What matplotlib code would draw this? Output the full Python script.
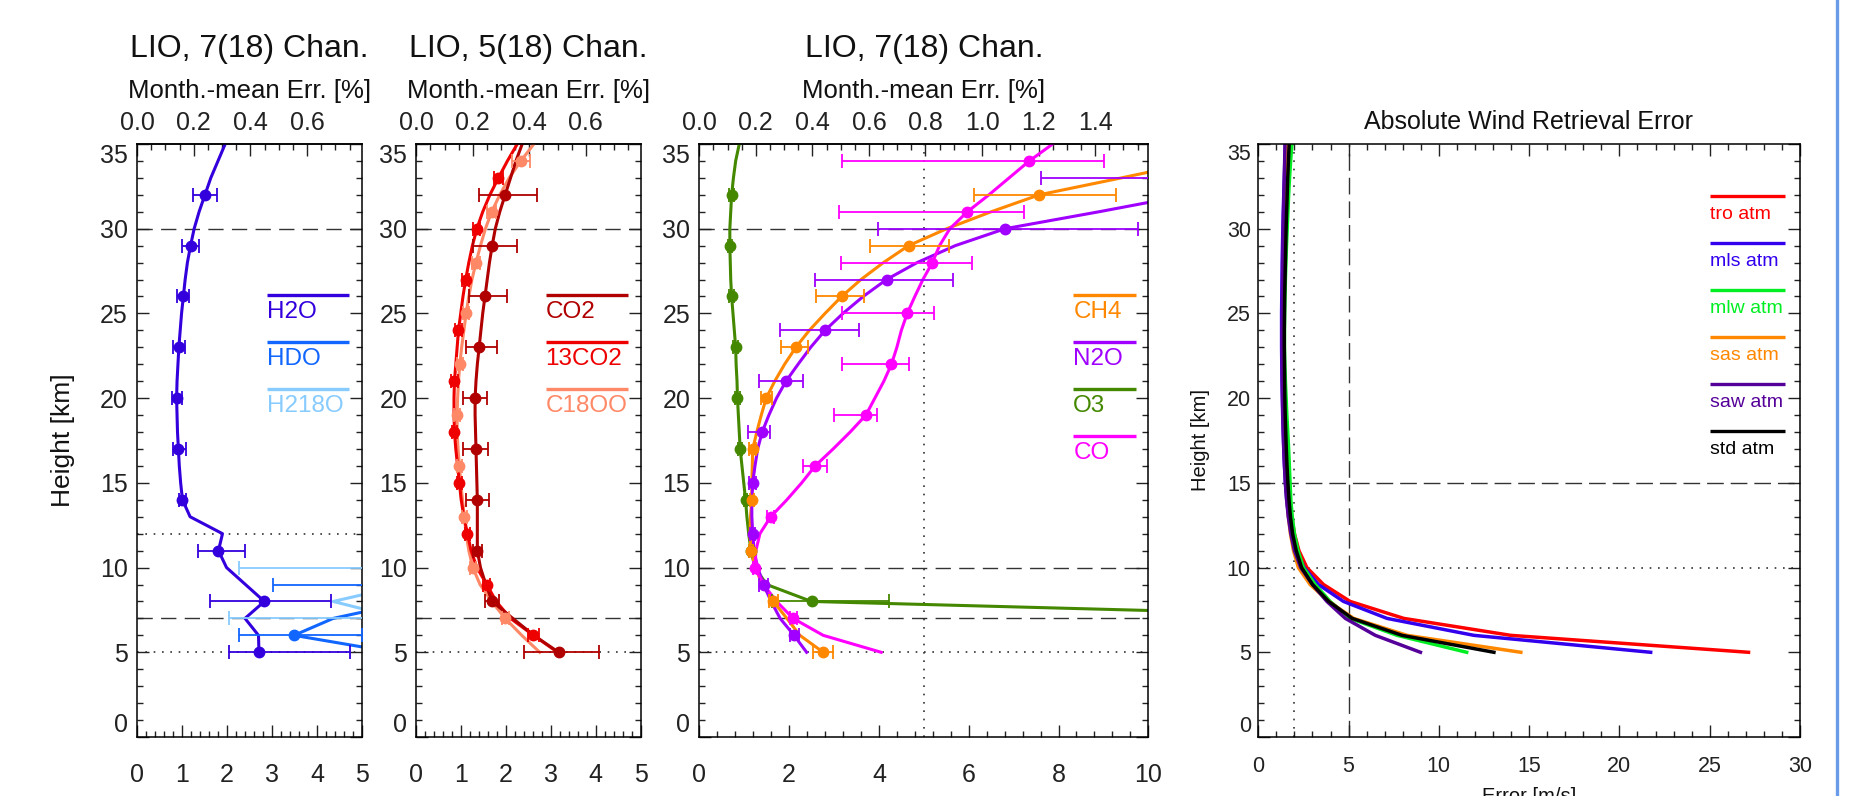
import matplotlib
matplotlib.use('Agg')
import matplotlib.pyplot as plt
from matplotlib.ticker import MultipleLocator, FixedLocator, FormatStrFormatter
from matplotlib.lines import Line2D

W, H = 1853, 796
TOP_K = 0.1588  # month-mean error scale relative to bottom axis

plt.rcParams['font.family'] = ['Liberation Sans', 'DejaVu Sans']

heights = list(range(5, 36))

# ---- panel 1: water isotopes ----
h2o = [2.71, 2.70, 2.40, 2.83, 2.41, 1.99, 1.81, 1.90, 1.18, 1.01, 0.97, 0.94, 0.92, 0.90, 0.89, 0.88,
       0.89, 0.91, 0.93, 0.96, 0.99, 1.03, 1.07, 1.12, 1.19, 1.27, 1.38, 1.51, 1.64, 1.80, 1.96]
h2o_mz = [5, 8, 11, 14, 17, 20, 23, 26, 29, 32]
h2o_elo = [0.66, 1.21, 0.45, 0.08, 0.11, 0.10, 0.12, 0.15, 0.18, 0.26]
h2o_ehi = [2.03, 1.48, 0.59, 0.08, 0.16, 0.13, 0.14, 0.13, 0.19, 0.27]

hdo_z = [5, 6, 7, 8, 9, 10, 11, 12]
hdo = [5.7, 3.49, 4.36, 6.1, 7.0, 8.0, 9.0, 10.0]
hdo_mz = [6, 9, 12]
hdo_elo = [1.22, 3.97, 2.0]
hdo_ehi = [1.5, 2.0, 2.0]

h218o_z = [5, 6, 7, 8, 9, 10]
h218o = [8.0, 7.0, 5.85, 4.36, 6.0, 7.5]
h218o_mz = [7, 10]
h218o_elo = [3.8, 5.23]
h218o_ehi = [2.0, 2.0]

# ---- panel 2: CO2 isotopes ----
co2 = [3.17, 2.62, 2.15, 1.69, 1.55, 1.43, 1.36, 1.36, 1.36, 1.36, 1.35, 1.34, 1.33, 1.32, 1.31, 1.31,
       1.33, 1.36, 1.40, 1.44, 1.48, 1.53, 1.58, 1.63, 1.69, 1.76, 1.86, 1.98, 2.10, 2.22, 2.36]
co2_mz = [5, 8, 11, 14, 17, 20, 23, 26, 29, 32]
co2_elo = [0.77, 0.16, 0.10, 0.26, 0.28, 0.26, 0.30, 0.35, 0.42, 0.58]
co2_ehi = [0.91, 0.16, 0.10, 0.26, 0.27, 0.26, 0.39, 0.48, 0.55, 0.70]

c13o2 = [3.15, 2.61, 2.10, 1.78, 1.57, 1.35, 1.22, 1.14, 1.06, 1.00, 0.96, 0.92, 0.88, 0.85, 0.84, 0.84,
         0.85, 0.88, 0.91, 0.94, 0.99, 1.04, 1.10, 1.17, 1.25, 1.35, 1.48, 1.64, 1.83, 2.03, 2.25]
c13o2_mz = [6, 9, 12, 15, 18, 21, 24, 27, 30, 33]
c13o2_err = [0.12, 0.08, 0.06, 0.06, 0.06, 0.07, 0.07, 0.08, 0.08, 0.10]

c18oo = [2.75, 2.35, 1.98, 1.68, 1.42, 1.26, 1.17, 1.11, 1.07, 1.03, 0.99, 0.96, 0.93, 0.91, 0.91, 0.92,
         0.94, 0.97, 1.01, 1.06, 1.11, 1.17, 1.24, 1.33, 1.43, 1.54, 1.68, 1.86, 2.07, 2.33, 2.62]
c18oo_mz = [7, 10, 13, 16, 19, 22, 25, 28, 31, 34]
c18oo_err = [0.08, 0.06, 0.05, 0.05, 0.06, 0.06, 0.07, 0.08, 0.10, 0.20]

# ---- panel 3: CH4, N2O, O3, CO ----
o3 = [50.0, 35.0, 16.6, 2.50, 1.50, 1.24, 1.15, 1.10, 1.06, 1.03, 0.99, 0.95, 0.91, 0.89, 0.87, 0.85,
      0.84, 0.82, 0.81, 0.78, 0.75, 0.72, 0.70, 0.69, 0.68, 0.68, 0.70, 0.72, 0.76, 0.81, 0.89]
o3_mz = [5, 8, 11, 14, 17, 20, 23, 26, 29, 32]
o3_elo = [2.0, 0.89, 0.04, 0.04, 0.05, 0.05, 0.05, 0.05, 0.05, 0.05]
o3_ehi = [2.0, 1.72, 0.04, 0.04, 0.05, 0.05, 0.05, 0.05, 0.05, 0.05]

ch4 = [2.76, 2.24, 1.95, 1.65, 1.40, 1.25, 1.15, 1.13, 1.14, 1.17, 1.17, 1.18, 1.19, 1.28, 1.38, 1.49,
       1.68, 1.90, 2.15, 2.45, 2.80, 3.17, 3.60, 4.10, 4.66, 5.51, 6.50, 7.57, 9.40, 11.2, 13.0]
ch4_mz = [5, 8, 11, 14, 17, 20, 23, 26, 29, 32]
ch4_elo = [0.22, 0.10, 0.05, 0.05, 0.08, 0.12, 0.34, 0.56, 0.86, 1.45]
ch4_ehi = [0.21, 0.10, 0.05, 0.05, 0.08, 0.12, 0.26, 0.50, 0.90, 1.70]

n2o = [2.39, 2.11, 1.80, 1.60, 1.43, 1.30, 1.22, 1.19, 1.17, 1.17, 1.19, 1.24, 1.30, 1.40, 1.55, 1.72,
       1.93, 2.20, 2.48, 2.80, 3.20, 3.65, 4.17, 4.85, 5.70, 6.81, 8.90, 10.9, 13.0, 15.0, 17.0]
n2o_mz = [6, 9, 12, 15, 18, 21, 24, 27, 30, 33]
n2o_elo = [0.10, 0.10, 0.05, 0.08, 0.31, 0.59, 1.00, 1.59, 2.82, 5.40]
n2o_ehi = [0.10, 0.10, 0.05, 0.08, 0.17, 0.37, 0.76, 1.47, 2.97, 3.00]

co = [4.05, 2.76, 2.09, 1.72, 1.43, 1.24, 1.26, 1.35, 1.59, 1.95, 2.28, 2.58, 2.98, 3.36, 3.71, 3.91,
      4.11, 4.28, 4.40, 4.50, 4.63, 4.80, 4.98, 5.19, 5.35, 5.58, 5.97, 6.45, 6.90, 7.35, 7.87]
co_mz = [7, 10, 13, 16, 19, 22, 25, 28, 31, 34]
co_elo = [0.08, 0.05, 0.08, 0.26, 0.70, 1.10, 1.46, 2.04, 2.85, 4.17]
co_ehi = [0.08, 0.05, 0.08, 0.26, 0.24, 0.40, 0.59, 0.89, 1.27, 1.66]

# ---- panel 4: wind error [m/s] ----
wind_tro = [27.15, 13.98, 8.06, 5.09, 3.61, 2.69, 2.25, 2.00, 1.85, 1.75, 1.68, 1.62, 1.57, 1.53, 1.50, 1.47,
            1.45, 1.43, 1.42, 1.41, 1.41, 1.42, 1.43, 1.45, 1.47, 1.49, 1.52, 1.55, 1.58, 1.61, 1.64]
wind_mls = [21.73, 11.94, 7.13, 4.72, 3.33, 2.54, 2.10, 1.85, 1.68, 1.57, 1.50, 1.45, 1.41, 1.38, 1.35, 1.33,
            1.31, 1.30, 1.29, 1.29, 1.29, 1.30, 1.31, 1.32, 1.34, 1.36, 1.38, 1.41, 1.44, 1.47, 1.50]
wind_mlw = [11.54, 7.69, 5.09, 3.98, 3.15, 2.50, 2.20, 2.00, 1.88, 1.80, 1.76, 1.72, 1.68, 1.63, 1.58, 1.54,
            1.50, 1.47, 1.45, 1.45, 1.46, 1.48, 1.50, 1.53, 1.56, 1.60, 1.64, 1.68, 1.73, 1.79, 1.86]
wind_sas = [14.54, 8.24, 5.28, 3.90, 2.87, 2.22, 1.95, 1.78, 1.67, 1.60, 1.55, 1.50, 1.46, 1.43, 1.40, 1.38,
            1.37, 1.36, 1.35, 1.35, 1.36, 1.37, 1.38, 1.40, 1.42, 1.44, 1.46, 1.49, 1.52, 1.55, 1.58]
wind_saw = [8.98, 6.48, 4.82, 3.80, 3.00, 2.35, 2.00, 1.80, 1.66, 1.57, 1.50, 1.45, 1.41, 1.38, 1.36, 1.34,
            1.33, 1.32, 1.32, 1.32, 1.33, 1.34, 1.35, 1.36, 1.37, 1.38, 1.40, 1.42, 1.44, 1.46, 1.48]
wind_std = [13.05, 7.96, 5.20, 3.90, 3.00, 2.40, 2.10, 1.90, 1.78, 1.70, 1.64, 1.59, 1.55, 1.52, 1.49, 1.47,
            1.46, 1.45, 1.44, 1.44, 1.45, 1.46, 1.48, 1.50, 1.52, 1.54, 1.57, 1.60, 1.63, 1.67, 1.71]
wind_labels = ['tro atm', 'mls atm', 'mlw atm', 'sas atm', 'saw atm', 'std atm']
wind_colors = ['#ff0000', '#3300ee', '#00ee22', '#ff8800', '#550099', '#000000']

height_ticks = [0, 5, 10, 15, 20, 25, 30, 35]

fig = plt.figure(figsize=(W / 100, H / 100), dpi=100)


def add_panel(x0, x1, y0=144, y1=737):
    return fig.add_axes([x0 / W, 1 - y1 / H, (x1 - x0) / W, (y1 - y0) / H])


def ftext(x, y, s, **kw):
    fig.text(x / W, 1 - y / H, s, ha='center', va='center', **kw)


def style(ax, xmax, xmaj, xmin, labelsize=18, xpad=19, ypad=6.5, top=False):
    ax.set_xlim(0, xmax)
    ax.set_ylim(0, 35)
    ax.xaxis.set_major_locator(MultipleLocator(xmaj))
    ax.xaxis.set_minor_locator(MultipleLocator(xmin))
    ax.yaxis.set_major_locator(FixedLocator(height_ticks))
    ax.yaxis.set_minor_locator(MultipleLocator(1))
    ax.tick_params(which='both', direction='in', top=top, right=True, labelsize=labelsize,
                   width=1.0, color='#222222', labelcolor='#222222')
    ax.tick_params(which='major', length=8.5)
    ax.tick_params(which='minor', length=4)
    ax.tick_params(axis='x', pad=xpad)
    ax.tick_params(axis='y', pad=ypad)
    for s in ax.spines.values():
        s.set_linewidth(1.1)
    ticks = ax.yaxis.get_major_ticks()
    ticks[0].label1.set_va('bottom')
    ticks[-1].label1.set_va('top')


def top_axis(ax, ticks):
    sec = ax.secondary_xaxis('top', functions=(lambda v: v * TOP_K, lambda v: v / TOP_K))
    sec.xaxis.set_major_locator(FixedLocator(ticks))
    sec.xaxis.set_major_formatter(FormatStrFormatter('%.1f'))
    sec.xaxis.set_minor_locator(MultipleLocator(0.05))
    sec.tick_params(which='both', direction='in', labelsize=18, pad=6.5, width=1.0,
                    color='#222222', labelcolor='#222222')
    sec.tick_params(which='major', length=8.5)
    sec.tick_params(which='minor', length=4)
    sec.spines['top'].set_linewidth(1.1)


def refs(ax, dashed_h=(), dotted_h=(), dashed_v=(), dotted_v=(), dash=(11, 6)):
    for z in dashed_h:
        ax.axhline(z, color='#333333', lw=1.0, dashes=dash, zorder=1)
    for z in dotted_h:
        ax.axhline(z, color='#333333', lw=1.2, dashes=(1, 4), zorder=1)
    for x in dashed_v:
        ax.axvline(x, color='#333333', lw=1.0, dashes=dash, zorder=1)
    for x in dotted_v:
        ax.axvline(x, color='#333333', lw=1.2, dashes=(1, 4), zorder=1)


def profile(ax, z, x, mz, elo, ehi, color):
    ax.plot(x, z, color=color, lw=2.2, zorder=2)
    xm = [x[z.index(h)] for h in mz]
    ax.errorbar(xm, mz, xerr=[elo, ehi], fmt='o', color=color, ms=7.5,
                elinewidth=1.3, capsize=5, capthick=1.3, zorder=3)


def key(ax, x0, x1, z, label, color, fs=17.5, dz=1.38):
    ax.plot([x0, x1], [z, z], color=color, lw=2.4, solid_capstyle='butt')
    ax.text(x0, z - dz, label, color=color, fontsize=fs, ha='left', va='baseline')


key_z = [26.1, 23.32, 20.54, 17.76]

# panel 1
ax1 = add_panel(137, 362)
refs(ax1, dashed_h=[30, 7], dotted_h=[12, 5])
profile(ax1, h218o_z, h218o, h218o_mz, h218o_elo, h218o_ehi, '#88ccff')
profile(ax1, hdo_z, hdo, hdo_mz, hdo_elo, hdo_ehi, '#1166ff')
profile(ax1, heights, h2o, h2o_mz, h2o_elo, h2o_ehi, '#3300dd')
for z, lab, c in zip(key_z, ['H2O', 'HDO', 'H218O'], ['#3300dd', '#1166ff', '#88ccff']):
    key(ax1, 2.88, 4.72, z, lab, c)
style(ax1, 5, 1, 0.2)
top_axis(ax1, [0.0, 0.2, 0.4, 0.6])

# panel 2
ax2 = add_panel(416.3, 640.7)
refs(ax2, dashed_h=[30, 7], dotted_h=[5])
profile(ax2, heights, c18oo, c18oo_mz, c18oo_err, c18oo_err, '#ff8866')
profile(ax2, heights, c13o2, c13o2_mz, c13o2_err, c13o2_err, '#ee0000')
profile(ax2, heights, co2, co2_mz, co2_elo, co2_ehi, '#b00000')
for z, lab, c in zip(key_z, ['CO2', '13CO2', 'C18OO'], ['#b00000', '#ee0000', '#ff8866']):
    key(ax2, 2.88, 4.72, z, lab, c)
style(ax2, 5, 1, 0.2)
top_axis(ax2, [0.0, 0.2, 0.4, 0.6])

# panel 3
ax3 = add_panel(699.3, 1148.3)
refs(ax3, dashed_h=[30, 10, 7], dotted_h=[5], dotted_v=[5])
profile(ax3, heights, o3, o3_mz, o3_elo, o3_ehi, '#448800')
profile(ax3, heights, ch4, ch4_mz, ch4_elo, ch4_ehi, '#ff8800')
profile(ax3, heights, n2o, n2o_mz, n2o_elo, n2o_ehi, '#9f00ff')
profile(ax3, heights, co, co_mz, co_elo, co_ehi, '#ff00ff')
for z, lab, c in zip(key_z, ['CH4', 'N2O', 'O3', 'CO'], ['#ff8800', '#9f00ff', '#448800', '#ff00ff']):
    key(ax3, 8.33, 9.72, z, lab, c)
style(ax3, 10, 2, 0.4)
top_axis(ax3, [0.0, 0.2, 0.4, 0.6, 0.8, 1.0, 1.2, 1.4])

for xc, title in [(249.5, 'LIO, 7(18) Chan.'), (528.5, 'LIO, 5(18) Chan.'), (923.8, 'LIO, 7(18) Chan.')]:
    ftext(xc, 49, title, fontsize=23, color='#111111')
    ftext(xc, 91, 'Month.-mean Err. [%]', fontsize=18.5, color='#111111')
ftext(63, 440, 'Height [km]', fontsize=19, rotation=90, color='#111111')

# panel 4
ax4 = add_panel(1258.3, 1800)
refs(ax4, dashed_h=[15], dotted_h=[10], dashed_v=[5], dotted_v=[2], dash=(12, 5))
for vals, lab, c in zip([wind_tro, wind_mls, wind_mlw, wind_sas, wind_saw, wind_std], wind_labels, wind_colors):
    ax4.plot(vals, heights, color=c, lw=2.5, zorder=2)
for i, (lab, c) in enumerate(zip(wind_labels, wind_colors)):
    key(ax4, 25.0, 29.17, 31.96 - 2.78 * i, lab, c, fs=14, dz=1.36)
style(ax4, 30, 5, 1, labelsize=15.5, xpad=14, ypad=5.4, top=True)
ftext(1529, 122, 'Absolute Wind Retrieval Error', fontsize=18, color='#111111')
ftext(1200, 440, 'Height [km]', fontsize=14.5, rotation=90, color='#111111')
fig.text(1529 / W, 1 - 787 / H, 'Error [m/s]', ha='center', va='top', fontsize=14.5, color='#111111')

fig.add_artist(Line2D([1836.5 / W, 1836.5 / W], [0, 1], color='#6a9be8', lw=2.4,
                      transform=fig.transFigure))

fig.savefig('out.png', dpi=100)
